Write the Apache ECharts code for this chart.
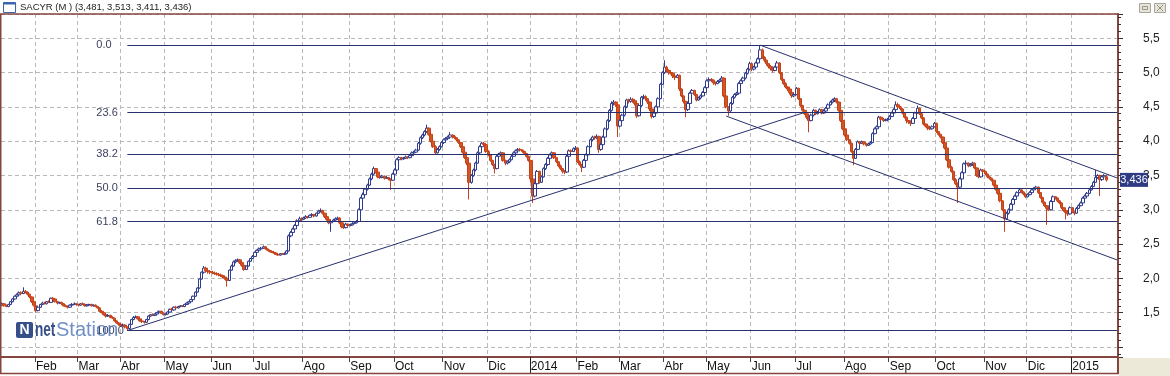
<!DOCTYPE html>
<html><head><meta charset="utf-8">
<script src="https://cdn.jsdelivr.net/npm/echarts@6/dist/echarts.min.js"></script>
<style>html,body{margin:0;padding:0;background:#fff;}#c{width:1170px;height:376px;}</style>
</head><body><div id="c"></div>
<script>
// ---------- DATA (prices in euro cents, each bar = [open, high, low, close]) ----------
const titleText = 'SACYR (M ) (3,481, 3,513, 3,411, 3,436)';
const monthNames = ['Ene','Feb','Mar','Abr','May','Jun','Jul','Ago','Sep','Oct','Nov','Dic'];
const fibPercents = [0, 23.6, 38.2, 50, 61.8, 100];
const monthKeys = ['2013-01','2013-02','2013-03','2013-04','2013-05','2013-06','2013-07','2013-08','2013-09','2013-10','2013-11','2013-12',
  '2014-01','2014-02','2014-03','2014-04','2014-05','2014-06','2014-07','2014-08','2014-09','2014-10','2014-11','2014-12','2015-01'];

const m1301 = [[161,165,160,163],[163,164,159,160],[160,162,158,159],[159,163,158,162],[162,167,161,166],[166,171,165,170],[170,175,169,174],[174,178,172,176],[176,181,175,179],[179,181,176,178],[178,187,177,181],[181,183,178,180],[180,181,175,177],[177,178,171,173],[173,174,164,166],[166,167,159,161]];
const m1302 = [[160,161,150,153],[153,159,152,158],[158,163,157,162],[162,166,161,164],[164,166,162,163],[163,167,162,166],[166,168,164,165],[165,172,164,171],[171,173,168,170],[170,171,165,166],[166,167,162,164],[164,166,163,165],[165,166,161,163],[163,164,159,160],[160,162,158,159],[159,160,156,158],[158,162,157,161],[161,164,160,162],[162,165,161,163],[163,164,160,162]];
const m1303 = [[162,163,159,161],[161,164,160,163],[163,165,161,162],[162,163,159,160],[160,162,159,161],[161,163,160,162],[162,163,159,160],[160,162,159,161],[161,162,158,159],[159,160,156,157],[157,158,151,152],[152,154,149,150],[150,151,146,147],[147,148,143,145],[145,148,144,146],[146,147,142,143],[143,145,141,142],[142,143,137,138],[138,139,134,135],[135,136,131,133]];
const m1304 = [[133,134,129,131],[131,134,130,132],[132,133,127,129],[129,130,124,127],[127,134,126,133],[133,141,132,140],[140,145,139,143],[143,146,142,144],[144,145,140,141],[141,142,137,138],[138,139,135,137],[137,138,134,136],[136,141,135,140],[140,146,139,145],[145,148,144,147],[147,149,145,146],[146,149,145,148],[148,151,147,150],[150,153,149,152],[152,153,148,149],[149,150,146,147]];
const m1305 = [[147,149,146,148],[148,152,147,151],[151,156,150,155],[155,157,153,154],[154,159,153,158],[158,160,156,157],[157,160,156,159],[159,161,158,160],[160,161,158,159],[159,163,158,162],[162,165,161,164],[164,167,163,166],[166,170,165,169],[169,175,168,174],[174,181,173,180],[180,187,179,186],[186,200,185,199],[199,210,198,209],[209,218,207,215],[215,217,209,211],[211,214,207,210],[210,212,206,209]];
const m1306 = [[209,211,206,208],[208,210,205,207],[207,209,204,206],[206,208,203,205],[205,207,202,204],[204,205,200,202],[202,203,198,200],[200,201,188,197],[197,213,196,212],[212,220,211,218],[218,226,217,224],[224,228,222,226],[226,229,224,227],[227,228,221,223],[223,224,217,219],[219,220,211,213],[213,219,212,218],[218,226,217,225],[225,230,224,229],[229,234,228,232]];
const m1307 = [[232,239,231,238],[238,242,237,241],[241,245,240,243],[243,246,242,244],[244,248,243,246],[246,247,242,243],[243,244,240,241],[241,242,238,239],[239,241,237,238],[238,240,236,237],[237,238,234,235],[235,237,233,234],[234,237,233,236],[236,237,234,235],[235,238,234,236],[236,241,235,240],[240,264,239,262],[262,269,260,267],[267,274,265,272],[272,279,270,277],[277,286,276,284],[284,290,282,287],[287,289,283,286]];
const m1308 = [[286,290,285,288],[288,292,287,290],[290,291,287,289],[289,293,288,292],[292,295,291,293],[293,294,289,291],[291,296,290,295],[295,300,294,298],[298,302,296,299],[299,300,293,295],[295,296,288,290],[290,291,284,286],[286,287,279,281],[281,285,268,283],[283,287,282,285],[285,289,284,287],[287,290,285,288],[288,289,279,281],[281,282,273,275],[275,277,272,274],[274,281,273,279],[279,280,275,277]];
const m1309 = [[277,280,276,278],[278,282,277,280],[280,283,279,281],[281,285,280,283],[283,302,282,300],[300,319,299,317],[317,325,315,322],[322,332,320,330],[330,338,328,336],[336,347,335,345],[345,354,343,352],[352,363,350,360],[360,361,353,355],[355,356,346,348],[348,350,345,347],[347,351,346,349],[349,350,344,346],[346,349,345,347],[347,348,343,345],[345,346,329,343],[343,354,342,352]];
const m1310 = [[352,360,351,358],[358,375,357,373],[373,378,371,376],[376,377,372,374],[374,377,373,375],[375,379,374,377],[377,378,374,376],[376,381,375,379],[379,385,378,383],[383,386,381,384],[384,389,383,387],[387,399,386,397],[397,407,395,405],[405,411,403,409],[409,416,407,414],[414,424,412,419],[419,420,408,410],[410,411,398,400],[400,401,390,392],[392,394,381,383],[383,390,382,388],[388,394,386,392],[392,400,391,398]];
const m1311 = [[398,404,396,402],[402,406,400,404],[404,408,402,406],[406,413,404,409],[409,410,404,407],[407,409,403,405],[405,406,400,402],[402,403,396,398],[398,399,390,392],[392,393,382,384],[384,386,374,376],[376,378,365,368],[368,369,315,340],[340,352,338,350],[350,360,348,358],[358,370,356,368],[368,385,367,383],[383,394,381,392],[392,399,390,397],[397,399,393,395],[395,396,383,385]];
const m1312 = [[385,387,378,380],[380,381,370,372],[372,373,364,366],[366,367,353,360],[360,380,359,378],[378,383,376,381],[381,385,379,383],[383,384,370,372],[372,373,365,368],[368,372,366,370],[370,375,368,373],[373,380,372,378],[378,385,377,383],[383,388,381,386],[386,390,384,388],[388,390,385,387],[387,388,383,385],[385,386,380,382],[382,383,376,378],[378,379,370,372]];
const m1401 = [[372,373,340,345],[345,347,310,320],[320,340,318,338],[338,358,336,356],[356,357,338,340],[340,350,339,348],[348,362,347,360],[360,368,358,366],[366,377,364,375],[375,382,373,380],[380,385,378,383],[383,384,374,376],[376,377,368,370],[370,371,362,364],[364,366,358,360],[360,361,353,356],[356,358,352,355],[355,380,354,378],[378,388,376,386],[386,388,383,385],[385,391,384,389],[389,393,387,390]];
const m1402 = [[390,391,368,370],[370,372,364,366],[366,367,355,362],[362,374,361,372],[372,382,371,380],[380,394,379,392],[392,404,391,402],[402,408,400,406],[406,408,402,405],[405,410,403,407],[407,408,383,388],[388,397,386,395],[395,408,394,406],[406,420,405,418],[418,432,416,430],[430,447,428,445],[445,458,443,455],[455,460,452,457],[457,458,450,453],[453,454,406,422]];
const m1403 = [[422,432,420,430],[430,440,428,438],[438,452,436,450],[450,462,448,460],[460,462,455,458],[458,464,456,461],[461,463,456,459],[459,460,452,455],[455,456,434,437],[437,454,436,452],[452,466,450,464],[464,468,461,465],[465,467,459,462],[462,463,454,457],[457,458,444,447],[447,448,433,436],[436,443,434,441],[441,452,440,450],[450,464,449,462],[462,485,461,483],[483,502,482,500]];
const m1404 = [[500,518,498,508],[508,510,500,503],[503,505,497,500],[500,503,497,499],[499,500,492,495],[495,496,489,493],[493,498,492,496],[496,497,473,476],[476,477,464,466],[466,467,455,458],[458,459,435,446],[446,457,444,455],[455,472,454,470],[470,476,468,474],[474,475,466,468],[468,469,458,460],[460,465,459,463],[463,468,461,466],[466,473,465,471],[471,480,470,478]];
const m1405 = [[478,490,477,488],[488,493,486,490],[490,492,486,489],[489,490,482,485],[485,487,481,484],[484,489,483,487],[487,491,485,489],[489,495,488,492],[492,493,464,466],[466,467,448,450],[450,451,437,444],[444,457,443,455],[455,466,453,464],[464,470,462,468],[468,472,466,470],[470,486,469,484],[484,490,482,488],[488,494,486,492],[492,501,490,499],[499,507,497,505],[505,516,503,513]];
const m1406 = [[513,515,502,505],[505,510,503,508],[508,516,506,514],[514,522,512,520],[520,540,519,533],[533,535,520,522],[522,524,515,518],[518,519,510,513],[513,514,506,509],[509,511,503,506],[506,507,500,503],[503,510,502,508],[508,517,507,514],[514,515,498,500],[500,501,488,490],[490,491,482,484],[484,486,477,479],[479,480,473,476],[476,477,468,471],[471,472,463,466],[466,470,464,468]];
const m1407 = [[468,479,467,477],[477,478,460,462],[462,463,450,452],[452,453,443,445],[445,446,438,440],[440,441,432,435],[435,436,413,430],[430,440,429,438],[438,447,436,445],[445,446,438,440],[440,444,439,442],[442,448,441,446],[446,447,439,441],[441,446,440,444],[444,450,443,448],[448,455,447,453],[453,459,452,457],[457,462,455,460],[460,464,457,462],[462,463,455,457],[457,458,443,445],[445,446,428,430],[430,431,416,418]];
const m1408 = [[418,419,407,409],[409,410,400,402],[402,403,395,397],[397,398,383,385],[385,386,365,375],[375,390,374,388],[388,401,387,399],[399,400,395,397],[397,401,396,399],[399,400,394,396],[396,397,392,394],[394,398,393,396],[396,400,395,398],[398,413,397,411],[411,420,410,418],[418,423,416,421],[421,437,420,435],[435,436,430,432],[432,434,428,430],[430,433,429,431],[431,434,429,432]];
const m1409 = [[432,438,431,436],[436,443,435,441],[441,448,440,446],[446,458,445,453],[453,456,448,450],[450,451,445,447],[447,448,439,441],[441,442,433,435],[435,436,426,430],[430,431,425,428],[428,429,422,426],[426,435,425,433],[433,443,432,441],[441,452,440,448],[448,449,438,440],[440,441,432,434],[434,435,423,425],[425,426,420,422],[422,423,416,419],[419,421,416,418],[418,423,417,421],[421,428,420,426]];
const m1410 = [[426,427,412,414],[414,415,408,410],[410,411,404,406],[406,407,396,398],[398,399,388,390],[390,391,371,373],[373,374,360,362],[362,364,354,356],[356,357,342,344],[344,346,336,338],[338,340,310,333],[333,347,332,345],[345,356,344,354],[354,369,353,367],[367,372,365,368],[368,369,362,364],[364,368,363,366],[366,370,364,368],[368,369,359,361],[361,362,348,350],[350,352,346,348],[348,360,347,358],[358,359,353,356]];
const m1411 = [[356,357,350,352],[352,353,346,348],[348,349,344,346],[346,347,341,343],[343,344,334,336],[336,337,328,330],[330,331,322,324],[324,325,311,313],[313,314,298,300],[300,301,268,287],[287,297,285,295],[295,302,293,300],[300,310,299,308],[308,317,307,315],[315,322,314,320],[320,327,319,325],[325,331,324,329],[329,330,324,326],[326,327,321,323],[323,324,317,319]];
const m1412 = [[319,324,318,322],[322,327,321,325],[325,331,324,329],[329,333,328,331],[331,335,329,333],[333,334,323,325],[325,326,316,318],[318,319,309,311],[311,312,304,306],[306,307,278,302],[302,303,298,300],[300,314,299,312],[312,321,311,319],[319,320,315,317],[317,318,311,313],[313,314,308,310],[310,311,301,303],[303,304,297,299],[299,300,286,296],[296,297,291,294],[294,305,293,303]];
const m1501 = [[303,304,295,297],[297,298,292,295],[295,304,294,302],[302,308,301,306],[306,312,305,310],[310,319,309,317],[317,322,316,320],[320,326,319,324],[324,331,323,329],[329,336,328,334],[334,342,333,340],[340,358,339,347],[347,352,345,350],[350,351,320,344],[344,350,342,348],[348,352,346,350],[348.1,351.3,341.1,343.6]];

// Hand-drawn trend lines: start anchor ('low' / 'high' swing or [index, price]) and end [index, price]
const trendLines = [
  { from: 'low',  to: [378, 4.42] },
  { from: 'high', to: [525, 3.465] },
  { from: [341, 4.366], to: [525, 2.27] }
];

// ---------- BUILD ----------
const monthBars = [m1301,m1302,m1303,m1304,m1305,m1306,m1307,m1308,m1309,m1310,m1311,m1312,m1401,m1402,m1403,m1404,m1405,m1406,m1407,m1408,m1409,m1410,m1411,m1412,m1501];
const padBars = 5;
const cats = [], ohlc = [], labelAt = {}, yearAt = {};
monthBars.forEach((bars, mi) => {
  const parts = monthKeys[mi].split('-').map(Number);
  const yy = parts[0], mm = parts[1];
  if (mi > 0) {
    labelAt[cats.length] = mm === 1 ? String(yy) : monthNames[mm - 1];
    if (mm === 1) yearAt[cats.length] = true;
  }
  bars.forEach((b, k) => {
    cats.push(monthKeys[mi] + '-' + (k + 1));
    ohlc.push([b[0] / 100, b[3] / 100, b[2] / 100, b[1] / 100]); // [open, close, low, high]
  });
});
for (let k = 0; k < padBars; k++) cats.push('pad' + k);

let hiIdx = 0, loIdx = 0;
ohlc.forEach((d, i) => { if (d[3] > ohlc[hiIdx][3]) hiIdx = i; if (d[2] < ohlc[loIdx][2]) loIdx = i; });
const hi = ohlc[hiIdx][3], lo = ohlc[loIdx][2];
const lastCat = cats[cats.length - 1];

const NAVY = '#28316c';
const FRAME = '#86453f';
const markData = [];
fibPercents.forEach(p => {
  const v = hi - (hi - lo) * p / 100;
  markData.push([{ coord: [cats[loIdx], v], label: { show: true, formatter: p.toFixed(1) } }, { coord: [lastCat, v] }]);
});
trendLines.forEach(t => {
  let s;
  if (t.from === 'low') s = [cats[loIdx], lo];
  else if (t.from === 'high') s = [cats[hiIdx], hi];
  else s = [cats[t.from[0]], t.from[1]];
  markData.push([{ coord: s, label: { show: false } }, { coord: [cats[t.to[0]], t.to[1]] }]);
});

const chart = echarts.init(document.getElementById('c'), null, { renderer: 'canvas' });
const FONT = 'Liberation Sans, Arial, sans-serif';
chart.setOption({
  animation: false,
  backgroundColor: '#ffffff',
  textStyle: { fontFamily: FONT },
  grid: { left: 1, top: 14, width: 1117, height: 343 },
  xAxis: [{
    type: 'category', data: cats, boundaryGap: true, position: 'bottom',
    axisLine: { show: true, lineStyle: { color: FRAME, width: 2 } },
    axisTick: { show: true, length: 5, interval: (i) => labelAt[i] !== undefined, lineStyle: { color: '#444' } },
    axisLabel: { show: true, interval: (i) => labelAt[i] !== undefined, formatter: (v, i) => labelAt[i] || '',
      align: 'left', margin: 4, fontSize: 12, color: '#111', fontFamily: FONT },
    splitLine: { show: true, interval: (i) => labelAt[i] !== undefined, lineStyle: { color: '#b9b9b9', type: [4, 3] } }
  }, {
    type: 'category', data: cats, boundaryGap: true, position: 'bottom', offset: 0,
    axisLine: { show: false }, axisLabel: { show: false }, splitLine: { show: false },
    axisTick: { show: true, length: 16, interval: (i) => !!yearAt[i], lineStyle: { color: '#222' } }
  }],
  yAxis: {
    type: 'value', position: 'right', min: 0.854, max: 5.854, splitNumber: 10,
    axisLine: { show: true, lineStyle: { color: FRAME, width: 2 } },
    axisTick: { show: true, length: 5, lineStyle: { color: '#333' } },
    minorTick: { show: true, splitNumber: 5, length: 3, lineStyle: { color: '#333' } },
    axisLabel: { margin: 25, fontSize: 12, color: '#222', fontFamily: FONT, showMinLabel: false, showMaxLabel: false,
      formatter: (v) => v < 1.2 ? '' : v.toFixed(1).replace('.', ',') },
    splitLine: { show: true, lineStyle: { color: '#b9b9b9', type: [4, 3] } }
  },
  series: [{
    type: 'candlestick', data: ohlc, barWidth: 3,
    itemStyle: { color: '#ffffff', color0: '#d6561f', borderColor: '#2f3b8c', borderColor0: '#c4421b', borderWidth: 1 },
    markLine: {
      silent: true, symbol: ['none', 'none'], animation: false,
      lineStyle: { color: NAVY, width: 1, type: 'solid' },
      label: { show: false, position: 'start', distance: 31, align: 'left', color: '#3a3f5c', fontSize: 11, fontFamily: FONT },
      emphasis: { disabled: true },
      data: markData
    }
  }]
});

const lastClose = ohlc[ohlc.length - 1][1];
const yTag = chart.convertToPixel({ yAxisIndex: 0 }, lastClose);
chart.setOption({
  graphic: [
    { type: 'line', z: 60, shape: { x1: 0, y1: 14, x2: 1119, y2: 14 }, style: { stroke: FRAME, lineWidth: 1.5 } },
    { type: 'line', z: 60, shape: { x1: 0.75, y1: 14, x2: 0.75, y2: 374 }, style: { stroke: FRAME, lineWidth: 1.5 } },
    { type: 'line', z: 60, shape: { x1: 0, y1: 373.5, x2: 1119, y2: 373.5 }, style: { stroke: FRAME, lineWidth: 1.5 } },
    { type: 'line', z: 60, shape: { x1: 1118, y1: 356, x2: 1118, y2: 374 }, style: { stroke: FRAME, lineWidth: 2 } },
    { type: 'rect', z: 55, shape: { x: 1119, y: 358, width: 51, height: 18 }, style: { fill: '#ece9d8' } },
    { type: 'rect', z: 55, shape: { x: 3.5, y: 2.5, width: 12, height: 10 }, style: { fill: '#ffffff', stroke: '#3b64ad', lineWidth: 1 } },
    { type: 'rect', z: 56, shape: { x: 3.5, y: 2.5, width: 12, height: 2 }, style: { fill: '#3b64ad' } },
    { type: 'text', z: 56, x: 20, y: 2, style: { text: titleText, font: '9.5px ' + FONT, fill: '#222' } },
    { type: 'rect', z: 56, shape: { x: 1139.5, y: 3.5, width: 11, height: 9 }, style: { fill: '#e6e3da', stroke: '#a9a59a', lineWidth: 1 } },
    { type: 'rect', z: 56, shape: { x: 1154.5, y: 3.5, width: 11, height: 9 }, style: { fill: '#e6e3da', stroke: '#a9a59a', lineWidth: 1 } },
    { type: 'rect', z: 57, shape: { x: 1142.5, y: 6.5, width: 5, height: 3 }, style: { fill: 'none', stroke: '#9a968a', lineWidth: 1 } },
    { type: 'line', z: 57, shape: { x1: 1157, y1: 5, x2: 1163, y2: 11 }, style: { stroke: '#9a968a', lineWidth: 1 } },
    { type: 'line', z: 57, shape: { x1: 1163, y1: 5, x2: 1157, y2: 11 }, style: { stroke: '#9a968a', lineWidth: 1 } },
    { type: 'rect', z: 80, shape: { x: 16, y: 322, width: 17, height: 16, r: 2 }, style: { fill: '#1f3c7c', opacity: 0.9 } },
    { type: 'text', z: 81, x: 24.5, y: 330, style: { text: 'N', font: 'bold 14px ' + FONT, fill: '#ffffff', align: 'center', verticalAlign: 'middle' } },
    { type: 'text', z: 81, x: 35, y: 330, scaleX: 0.68, originX: 0, originY: 0, style: { text: 'net', font: 'bold 20px ' + FONT, fill: '#27407f', verticalAlign: 'middle', opacity: 0.92 } },
    { type: 'text', z: 81, x: 56, y: 330, style: { text: 'Station', font: '20px ' + FONT, fill: '#4d74b6', verticalAlign: 'middle', opacity: 0.8 } },
    { type: 'rect', z: 90, shape: { x: 1120, y: yTag - 7, width: 28, height: 14 }, style: { fill: '#2e3b82' } },
    { type: 'text', z: 91, x: 1134, y: yTag, style: { text: lastClose.toFixed(3).replace('.', ','), font: '11px ' + FONT, fill: '#ffffff', align: 'center', verticalAlign: 'middle' } }
  ]
});
</script>
</body></html>
